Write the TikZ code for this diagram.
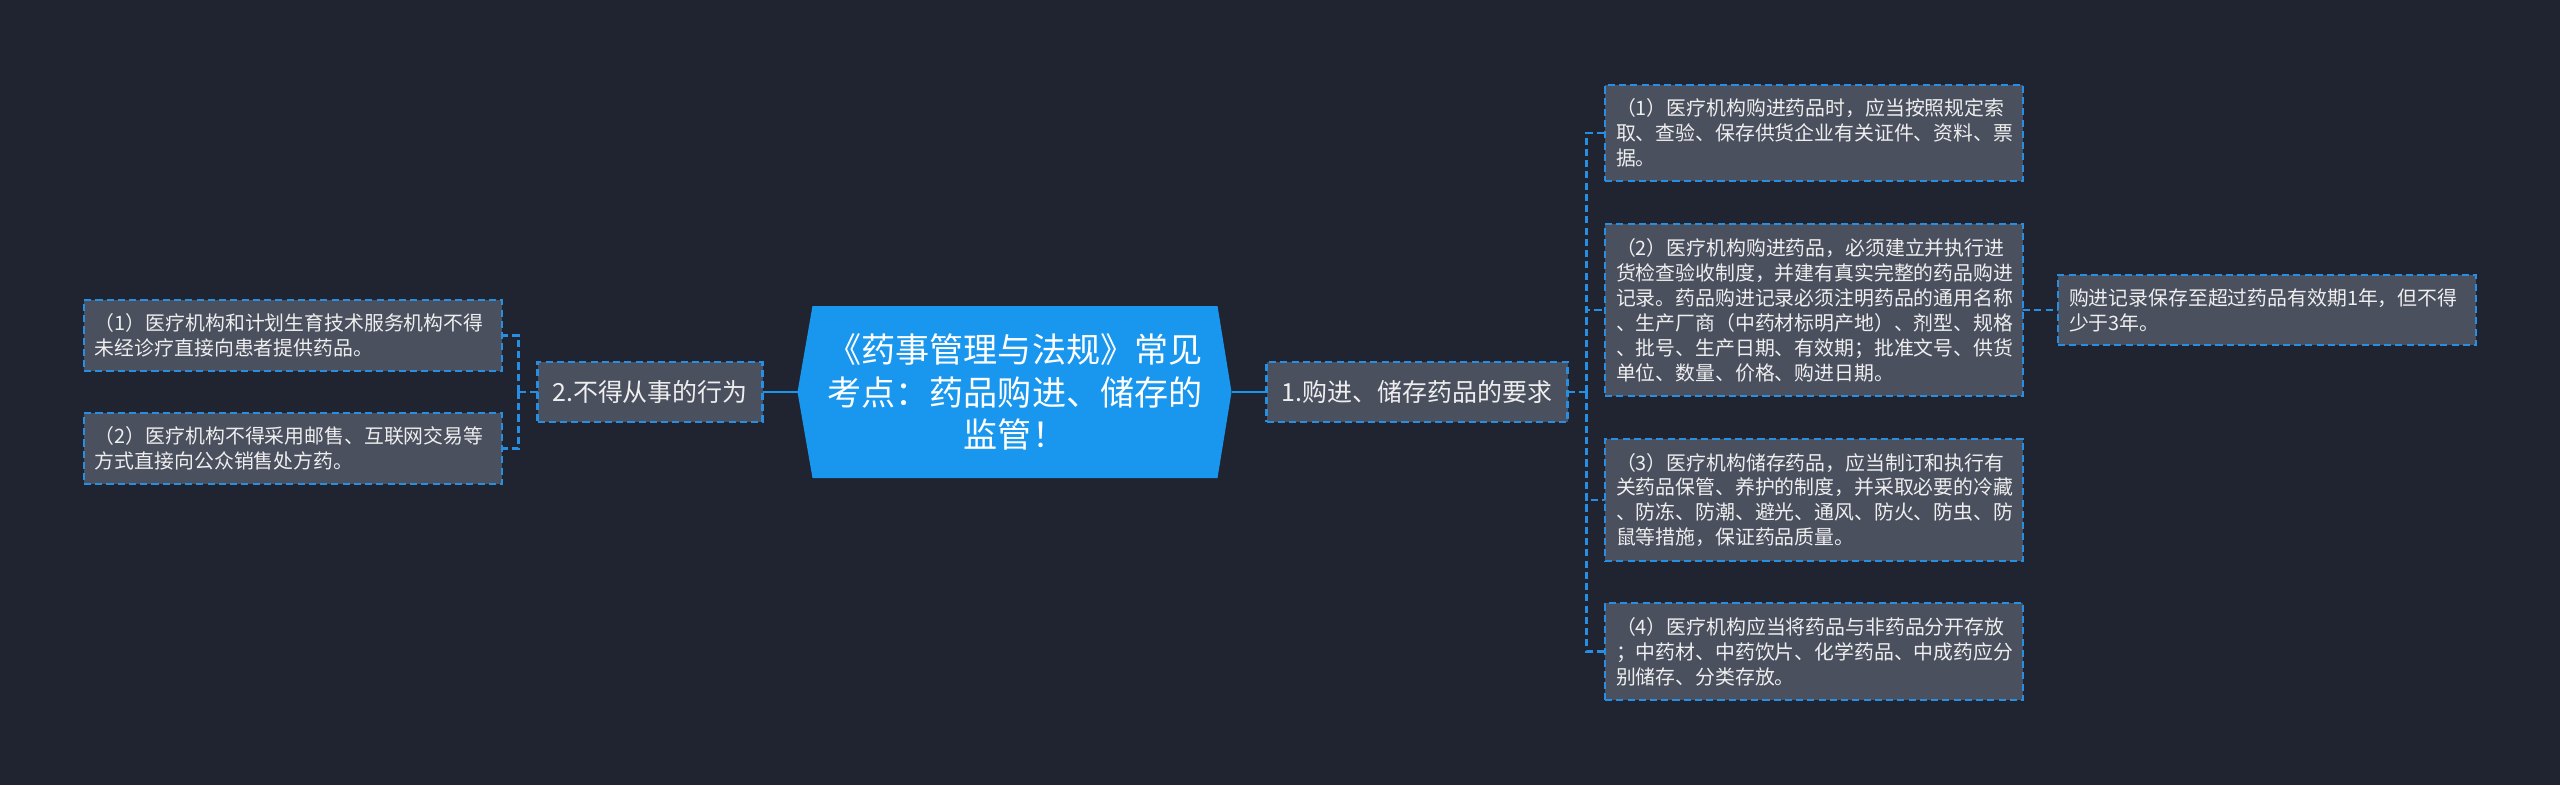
\documentclass[tikz,border=0pt]{standalone}
\usepackage{fontspec}
\setmainfont{Noto Sans CJK SC}
\usepackage{tikz}
\usetikzlibrary{positioning,calc,backgrounds}
\definecolor{bgcol}{RGB}{32,36,48}
\definecolor{boxfill}{RGB}{75,80,95}
\definecolor{edgeblue}{RGB}{38,143,228}
\definecolor{topicblue}{RGB}{25,150,238}
\definecolor{txtcol}{RGB}{238,238,238}
\tikzstyle{topic} = [rectangle, inner sep=0pt, outer sep=0pt, text=white, %
   text width=3.95cm, align=center, minimum width=4.05cm, minimum height=1.72cm, %
   font=\fontsize{9.7pt}{12pt}\selectfont]
\tikzstyle{branch} = [rectangle, draw=edgeblue, fill=boxfill, line width=0.6pt, %
   dash pattern=on 2pt off 1.2pt, text=txtcol, minimum height=0.6cm, outer sep=0pt, %
   font=\fontsize{7.1pt}{8.5pt}\selectfont]
\tikzstyle{leaf} = [rectangle, draw=edgeblue, fill=boxfill, line width=0.6pt, %
   dash pattern=on 2pt off 1.2pt, text=txtcol, text width=3.96cm, minimum width=4.18cm, %
   inner xsep=0.11cm, outer sep=0pt, align=left, font=\fontsize{5.65pt}{7.1pt}\selectfont]
\tikzstyle{link} = [draw, edgeblue, line width=0.6pt, dash pattern=on 2pt off 1.2pt]
\tikzstyle{trunk} = [draw, topicblue, line width=0.75pt]

\begin{document}
\begin{tikzpicture}
   \useasboundingbox (0,0) rectangle (25.6,-7.85);
   % Place nodes
   \node[topic](topic) at (10.15,-3.92){%
      《药事管理与法规》常见\\考点：药品购进、储存的\\监管！};
   \coordinate (tipE) at ($(topic.east)+(0.14,0)$);
   \coordinate (tipW) at ($(topic.west)+(-0.15,0)$);
   \begin{scope}[on background layer]
      \fill[bgcol] (0,0) rectangle (25.6,-7.85);
      \fill[topicblue] (topic.north west) -- (topic.north east) -- (tipE) %
         -- (topic.south east) -- (topic.south west) -- (tipW) -- cycle;
   \end{scope}

   % PURCHASE AND STORAGE %%%%%%%%%%%%%%%%%%%%%%%%%%%%%%%%%%%%%%%%%%%%%%%%
   \node[branch, right=0.49cm of topic, minimum width=3.01cm](rbranch){1.购进、储存药品的要求};
   \coordinate (rfork) at ($(rbranch.east)+(0.19,0)$);

   \node[leaf, anchor=west, minimum height=0.96cm](buy1) at (16.05,-1.33){%
      （1）医疗机构购进药品时，应当按照规定索\\取、查验、保存供货企业有关证件、资料、票\\据。};
   \node[leaf, anchor=west, minimum height=1.72cm](buy2) at (16.05,-3.10){%
      （2）医疗机构购进药品，必须建立并执行进\\货检查验收制度，并建有真实完整的药品购进\\%
      记录。药品购进记录必须注明药品的通用名称\\、生产厂商（中药材标明产地）、剂型、规格\\%
      、批号、生产日期、有效期；批准文号、供货\\单位、数量、价格、购进日期。};
   \node[leaf, anchor=west, minimum height=1.22cm](store1) at (16.05,-5.00){%
      （3）医疗机构储存药品，应当制订和执行有\\关药品保管、养护的制度，并采取必要的冷藏\\%
      、防冻、防潮、避光、通风、防火、防虫、防\\鼠等措施，保证药品质量。};
   \node[leaf, anchor=west, minimum height=0.97cm](store2) at (16.05,-6.515){%
      （4）医疗机构应当将药品与非药品分开存放\\；中药材、中药饮片、化学药品、中成药应分\\别储存、分类存放。};
   \node[leaf, right=0.35cm of buy2, minimum height=0.70cm](record){%
      购进记录保存至超过药品有效期1年，但不得\\少于3年。};

   % FORBIDDEN ACTS %%%%%%%%%%%%%%%%%%%%%%%%%%%%%%%%%%%%%%%%%%%%%%%%%%%%%%
   \node[branch, left=0.50cm of topic, minimum width=2.25cm](lbranch){2.不得从事的行为};
   \coordinate (lfork) at ($(lbranch.west)+(-0.19,0)$);

   \node[leaf, anchor=east, minimum height=0.71cm](ban1) at (5.02,-3.355){%
      （1）医疗机构和计划生育技术服务机构不得\\未经诊疗直接向患者提供药品。};
   \node[leaf, anchor=east, minimum height=0.71cm](ban2) at (5.02,-4.485){%
      （2）医疗机构不得采用邮售、互联网交易等\\方式直接向公众销售处方药。};

   % Draw edges
   \path [trunk] (tipE) -- (rbranch.west);
   \path [trunk] (tipW) -- (lbranch.east);
   \path [link] (rbranch.east) -- (rfork);
   \foreach \n in {buy1,buy2,store1,store2}
      \path [link] (rfork) |- (\n.west);
   \path [link] (buy2.east) -- (record.west);
   \path [link] (lbranch.west) -- (lfork);
   \foreach \n in {ban1,ban2}
      \path [link] (lfork) |- (\n.east);
\end{tikzpicture}
\end{document}
